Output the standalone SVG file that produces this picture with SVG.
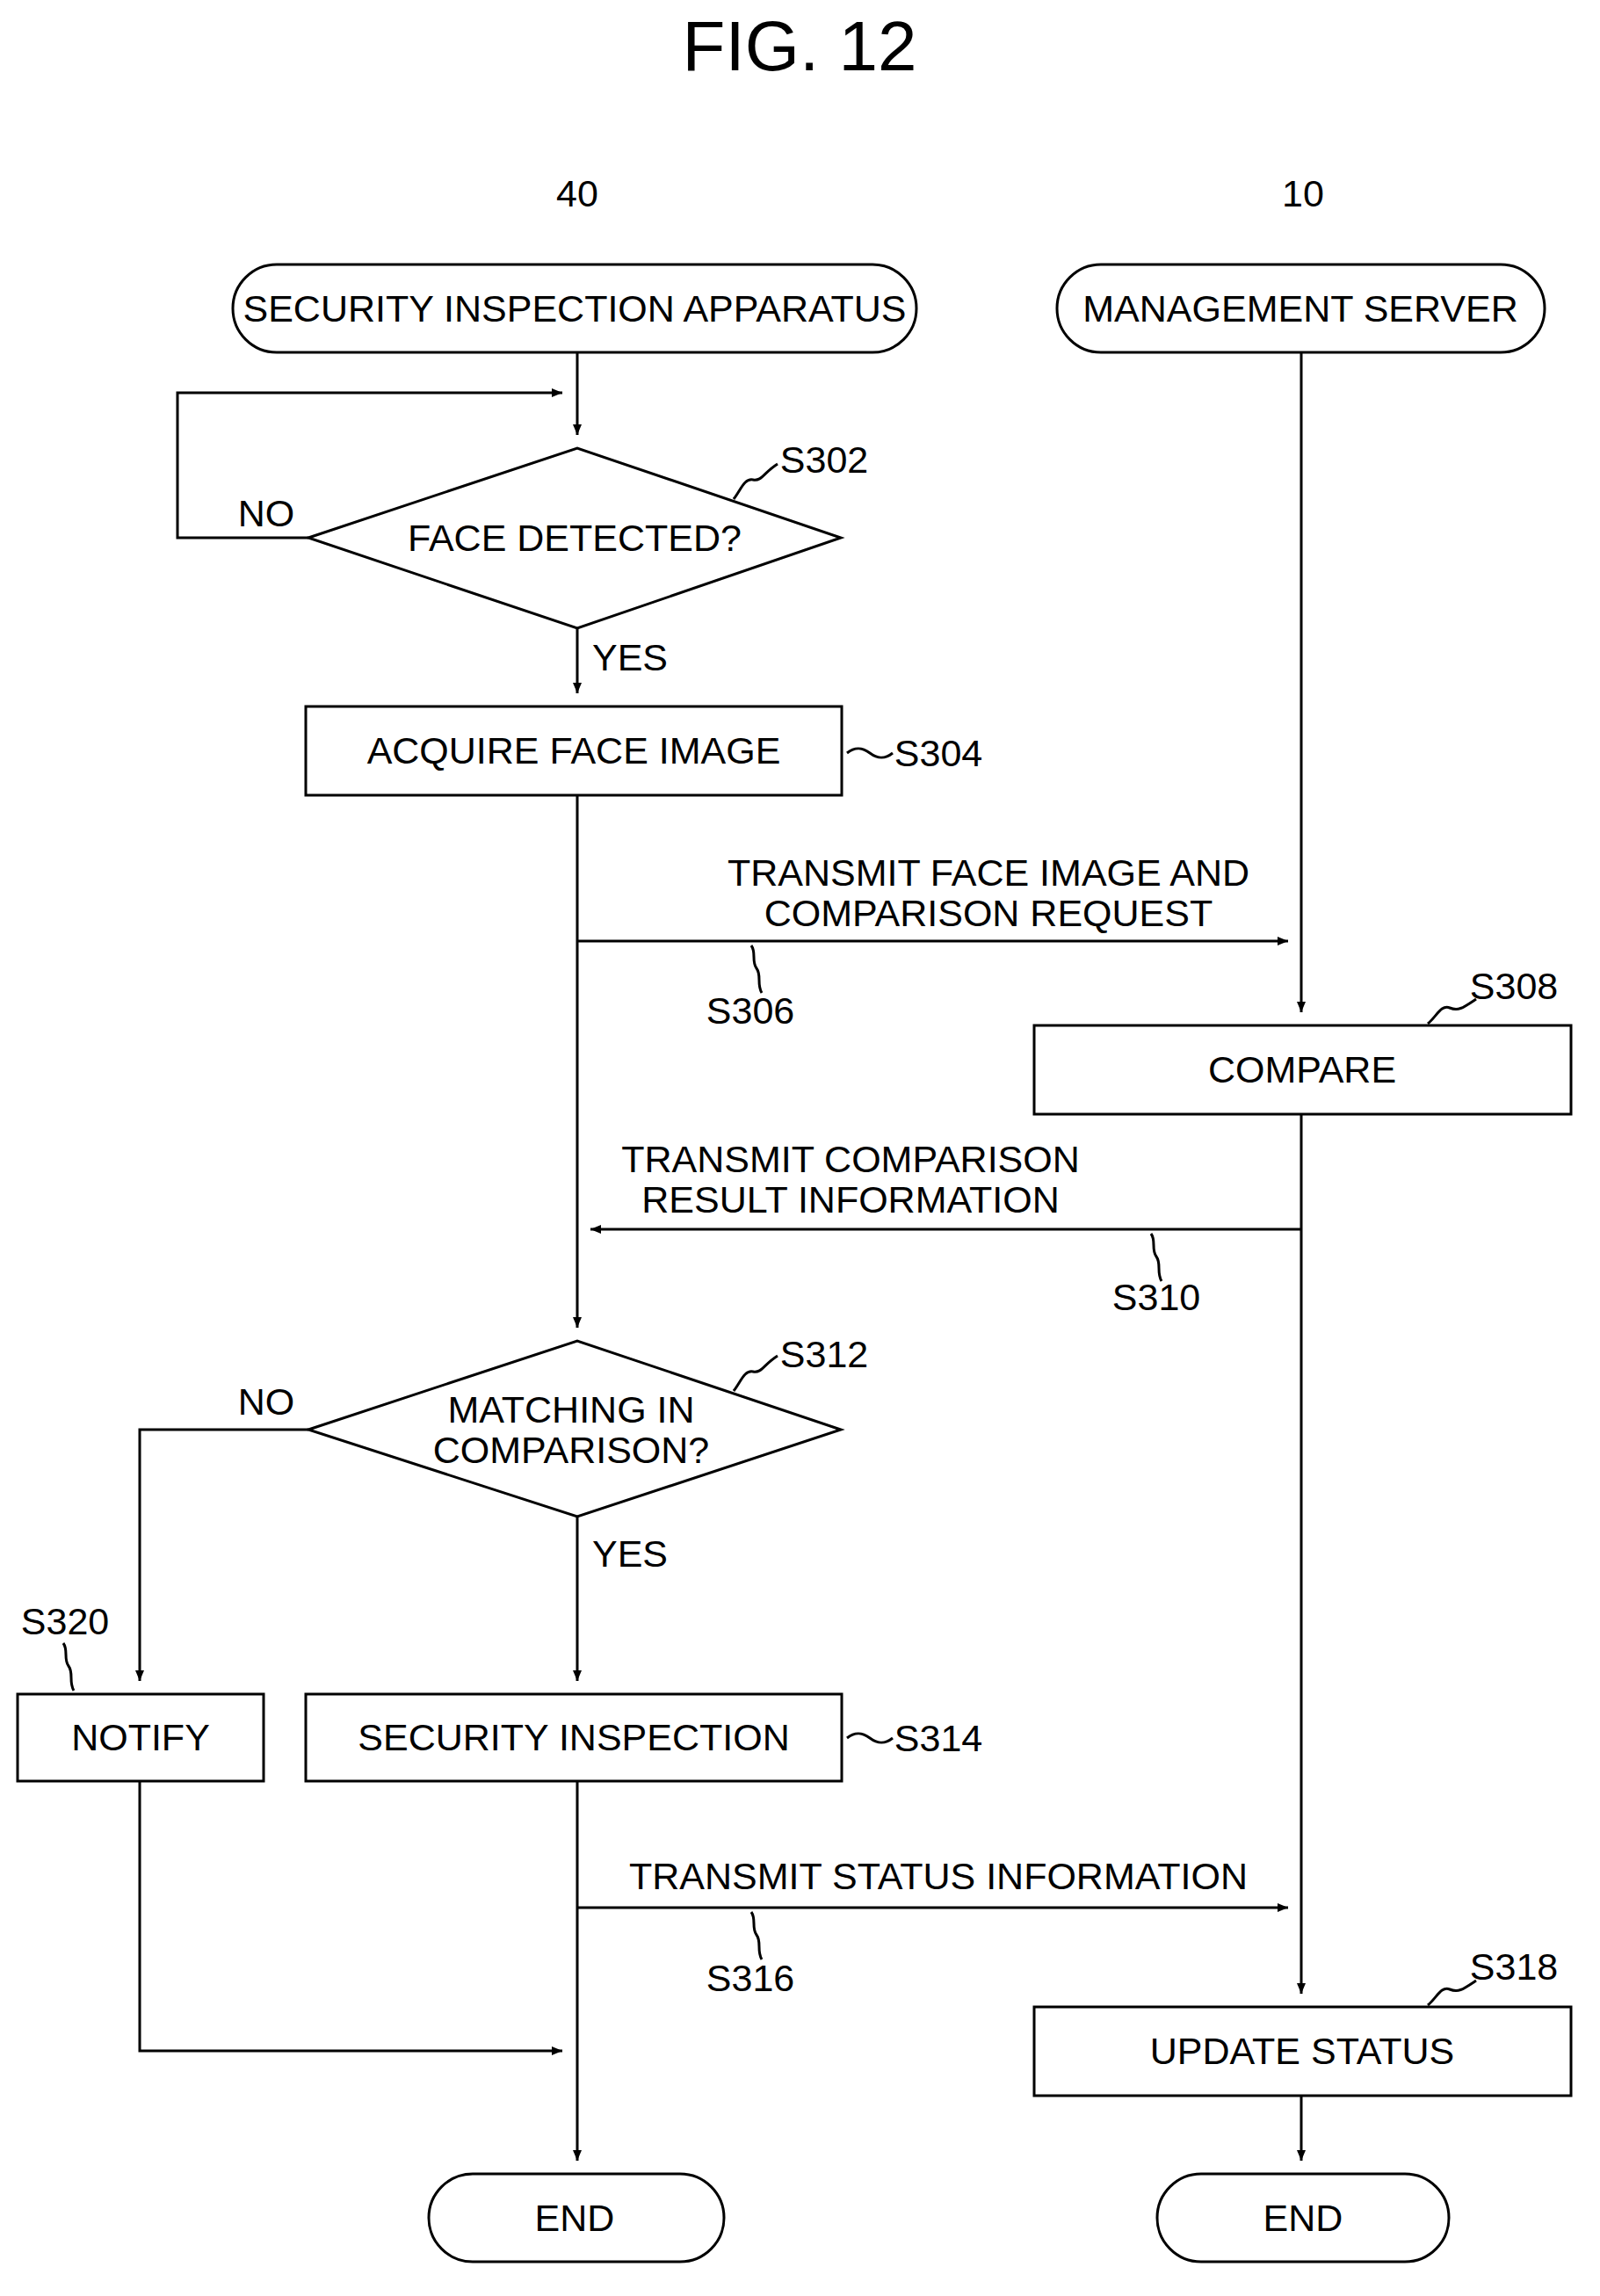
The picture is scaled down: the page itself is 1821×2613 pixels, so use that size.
<svg xmlns="http://www.w3.org/2000/svg" width="1821" height="2613" viewBox="0 0 1821 2613">
<style>
.s{fill:#fff;stroke:#000;stroke-width:3}
.l{fill:none;stroke:#000;stroke-width:3}
text{font-family:"Liberation Sans",Arial,sans-serif;font-size:43px;fill:#000;text-anchor:middle}
</style>
<defs>
<marker id="a" markerWidth="12" markerHeight="10" refX="12" refY="5" orient="auto" markerUnits="userSpaceOnUse" viewBox="0 0 12 10"><path d="M0,0L12,5L0,10Z" fill="#000"/></marker>
</defs>
<text x="910" y="80" style="font-size:80px">FIG.  12</text>
<text x="657" y="235">40</text>
<text x="1483" y="235">10</text>
<g id="connectors">
<path class="l" d="M657,401V495" marker-end="url(#a)"/>
<path class="l" d="M351,612H202V447H640" marker-end="url(#a)"/>
<path class="l" d="M657,715V789" marker-end="url(#a)"/>
<path class="l" d="M657,905V1511" marker-end="url(#a)"/>
<path class="l" d="M657,1071H1466" marker-end="url(#a)"/>
<path class="l" d="M1481,401V1152" marker-end="url(#a)"/>
<path class="l" d="M1481,1268V2269" marker-end="url(#a)"/>
<path class="l" d="M1481,1399H672" marker-end="url(#a)"/>
<path class="l" d="M351,1627H159V1913" marker-end="url(#a)"/>
<path class="l" d="M657,1726V1913" marker-end="url(#a)"/>
<path class="l" d="M657,2027V2459" marker-end="url(#a)"/>
<path class="l" d="M657,2171H1466" marker-end="url(#a)"/>
<path class="l" d="M159,2027V2334H640" marker-end="url(#a)"/>
<path class="l" d="M1481,2385V2459" marker-end="url(#a)"/>
<path class="l" d="M835,568c8,-10 12,-24 22,-22s12,-8 28,-18"/>
<path class="l" d="M964,857c10,-8 18,-6 26,0s16,8 26,0"/>
<path class="l" d="M855,1076c6,8 0,18 6,26s0,18 6,28"/>
<path class="l" d="M1625,1165c10,-8 15,-22 25,-18s15,0 30,-10"/>
<path class="l" d="M1310,1404c6,8 0,18 6,26s0,18 6,28"/>
<path class="l" d="M835,1583c8,-10 12,-24 22,-22s12,-8 28,-18"/>
<path class="l" d="M72,1870c6,8 0,18 6,26s0,18 6,28"/>
<path class="l" d="M964,1978c10,-8 18,-6 26,0s16,8 26,0"/>
<path class="l" d="M855,2176c6,8 0,18 6,26s0,18 6,28"/>
<path class="l" d="M1625,2282c10,-8 15,-22 25,-18s15,0 30,-10"/>
</g>
<text x="303" y="599">NO</text>
<text x="717" y="763">YES</text>
<text x="303" y="1610">NO</text>
<text x="717" y="1783">YES</text>
<text x="1125" y="1008">TRANSMIT FACE IMAGE AND</text>
<text x="1125" y="1054">COMPARISON REQUEST</text>
<text x="968" y="1334">TRANSMIT COMPARISON</text>
<text x="968" y="1380">RESULT INFORMATION</text>
<text x="1068" y="2150">TRANSMIT STATUS INFORMATION</text>
<text x="938" y="538">S302</text>
<text x="1068" y="872">S304</text>
<text x="854" y="1165">S306</text>
<text x="1723" y="1137">S308</text>
<text x="1316" y="1491">S310</text>
<text x="938" y="1556">S312</text>
<text x="1068" y="1993">S314</text>
<text x="854" y="2266">S316</text>
<text x="1723" y="2253">S318</text>
<text x="74" y="1860">S320</text>
<g id="start40"><rect class="s" x="265" y="301" width="778" height="100" rx="50"/><text x="654" y="366">SECURITY INSPECTION APPARATUS</text></g>
<g id="start10"><rect class="s" x="1203" y="301" width="555" height="100" rx="50"/><text x="1480" y="366">MANAGEMENT SERVER</text></g>
<g id="S302"><path class="s" d="M351,612L657,510L957,612L657,715Z"/><text x="654" y="627">FACE DETECTED?</text></g>
<g id="S304"><rect class="s" x="348" y="804" width="610" height="101"/><text x="653" y="869">ACQUIRE FACE IMAGE</text></g>
<g id="S308"><rect class="s" x="1177" y="1167" width="611" height="101"/><text x="1482" y="1232">COMPARE</text></g>
<g id="S312"><path class="s" d="M351,1627L657,1526L957,1627L657,1726Z"/><text x="650" y="1619">MATCHING IN</text><text x="650" y="1665">COMPARISON?</text></g>
<g id="S320"><rect class="s" x="20" y="1928" width="280" height="99"/><text x="160" y="1992">NOTIFY</text></g>
<g id="S314"><rect class="s" x="348" y="1928" width="610" height="99"/><text x="653" y="1992">SECURITY INSPECTION</text></g>
<g id="S318"><rect class="s" x="1177" y="2284" width="611" height="101"/><text x="1482" y="2349">UPDATE STATUS</text></g>
<g id="end40"><rect class="s" x="488" y="2474" width="336" height="100" rx="50"/><text x="654" y="2539">END</text></g>
<g id="end10"><rect class="s" x="1317" y="2474" width="332" height="100" rx="50"/><text x="1483" y="2539">END</text></g>
</svg>
